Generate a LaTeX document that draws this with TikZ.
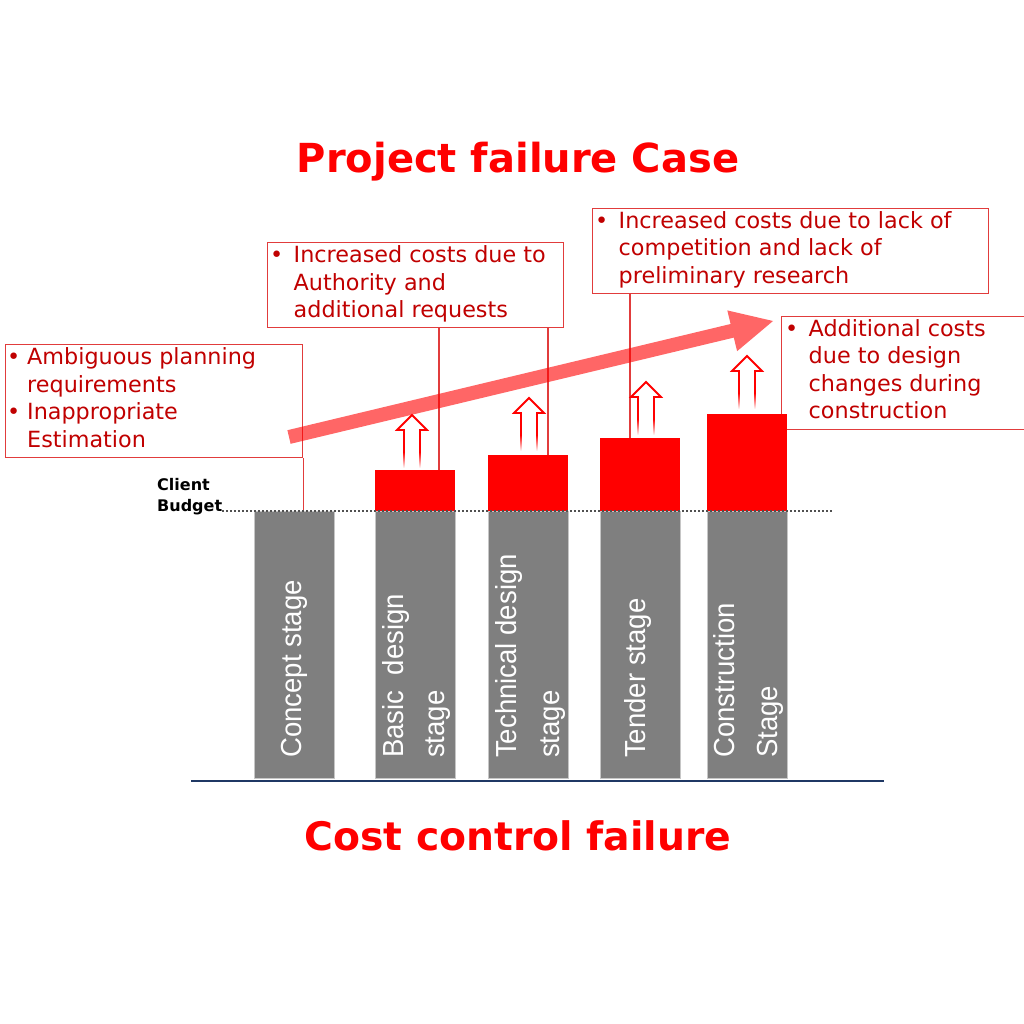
\documentclass[tikz,border=0pt]{standalone}
\usepackage{fontspec}
\setmainfont{DejaVu Sans}
\newfontfamily\barfont[FakeStretch=0.95]{Liberation Sans}
\definecolor{txtred}{RGB}{192,0,0}
\definecolor{boxred}{RGB}{225,60,60}
\definecolor{bargray}{RGB}{127,127,127}
\definecolor{axisblue}{RGB}{31,56,100}
\definecolor{dotgray}{RGB}{80,80,80}
\newcommand\tlines[1]{\begin{tabular}[t]{@{}l@{}}#1\end{tabular}}
\newcommand\hollowup[2]{%
  \draw[red, line width=1.8pt, line join=miter] (#1-8,#2+38) -- (#1-8,#2+15) -- (#1-15,#2+15) -- (#1,#2) -- (#1+15,#2+15) -- (#1+8,#2+15) -- (#1+8,#2+38);
  \shade[top color=red, bottom color=white] (#1-8.9,#2+37) rectangle (#1-7.1,#2+53);
  \shade[top color=red, bottom color=white] (#1+7.1,#2+37) rectangle (#1+8.9,#2+53);
}
\begin{document}
\begin{tikzpicture}[x=1pt,y=-1pt,
  box/.style={draw=boxred, line width=1.4pt, inner sep=0pt, anchor=north west},
  txt/.style={text=txtred, font=\fontsize{22.3}{27.5}\selectfont, inner sep=0pt, anchor=base west},
  graybar/.style={fill=bargray, draw=gray!45, line width=0.6pt, inner sep=0pt, anchor=north west, minimum width=80},
  redbar/.style={fill=red, inner sep=0pt, anchor=north west, minimum width=80},
  bartext/.style={text=white, font=\barfont\fontsize{29}{34}\selectfont, rotate=90, anchor=base west, inner sep=0pt},
  conn/.style={draw=boxred, line width=1.4pt},
  title/.style={text=red, font=\bfseries\fontsize{40}{48}\selectfont, inner sep=0pt, anchor=base}
]
\useasboundingbox (0,0) rectangle (1024,1024);
\clip (0,0) rectangle (1024,1024);

% titles
\node[title] (ttop) at (518,173) {Project failure Case};
\node[title, font=\bfseries\fontsize{39.3}{48}\selectfont] (tbot) at (518,850) {Cost control failure};

% boxes
\node[box, minimum width=297, minimum height=113] (box1) at (5,344) {};
\node[box, minimum width=296, minimum height=85] (box2) at (267,242) {};
\node[box, minimum width=396, minimum height=85] (box3) at (592,208) {};
\node[box, minimum width=270, minimum height=113] (box4) at (781,316) {};

% box texts
\node[txt] (b1a) at (7,364.5) {•};
\node[txt] (b1b) at (7,419.3) {•};
\node[txt] (t1) at (27,364.5) {\tlines{Ambiguous planning\\requirements\\Inappropriate\\Estimation}};
\node[txt] (b2) at (270,262.5) {•};
\node[txt] (t2) at (293.5,262.5) {\tlines{Increased costs due to\\Authority and\\additional requests}};
\node[txt] (b3) at (595,228.5) {•};
\node[txt] (t3) at (618.5,228.5) {\tlines{Increased costs due to lack of\\competition and lack of\\preliminary research}};
\node[txt] (b4) at (785,336) {•};
\node[txt] (t4) at (808.5,336) {\tlines{Additional costs\\due to design\\changes during\\construction}};

% bars
\node[graybar, minimum height=267] (concept) at (254,511) {};
\node[graybar, minimum height=267] (basic) at (374.5,511) {};
\node[graybar, minimum height=267] (tech) at (488,511) {};
\node[graybar, minimum height=267] (tender) at (600,511) {};
\node[graybar, minimum height=267] (constr) at (707,511) {};
\node[redbar, minimum height=41] (basicR) at (374.5,470) {};
\node[redbar, minimum height=56] (techR) at (488,455) {};
\node[redbar, minimum height=73] (tenderR) at (600,438) {};
\node[redbar, minimum height=97] (constrR) at (707,414) {};

% connectors
\draw[conn] (box1.south east) -- (box1.south east |- concept.north);
\draw[conn] (439,0 |- box2.south) -- (439,0 |- basicR.north);
\draw[conn] (548,0 |- box2.south) -- (548,0 |- techR.north);
\draw[conn] (630,0 |- box3.south) -- (630,0 |- tenderR.north);

% bar labels
\node[bartext] (lc) at (301,758) {Concept stage};
\node[bartext] (lb1) at (403,758) {Basic\ \ design};
\node[bartext] (lb2) at (444,758) {stage};
\node[bartext] (lt1) at (516,758) {Technical design};
\node[bartext] (lt2) at (559,758) {stage};
\node[bartext] (ld) at (645,758) {Tender stage};
\node[bartext] (lo1) at (734,758) {Construction};
\node[bartext] (lo2) at (777,758) {Stage};

% budget line
\draw[dotgray, line width=2pt, dash pattern=on 2pt off 2pt] (222,511) -- (832,511);
\node[anchor=base west, inner sep=0pt, font=\bfseries\fontsize{16}{21}\selectfont] (budget) at (157,490) {\tlines{Client\\Budget}};

% axis
\draw[axisblue, line width=2.8pt] (191,781) -- (884,781);

% big trend arrow
\fill[red, opacity=0.6] (287.4,430.2) -- (730.6,324.0) -- (727.3,310.4) -- (773,321) -- (737.1,351.2) -- (733.8,337.6) -- (290.6,443.8) -- cycle;

% small hollow arrows
\hollowup{412}{415}
\hollowup{529}{398}
\hollowup{646}{382}
\hollowup{747}{356}
\end{tikzpicture}
\end{document}
